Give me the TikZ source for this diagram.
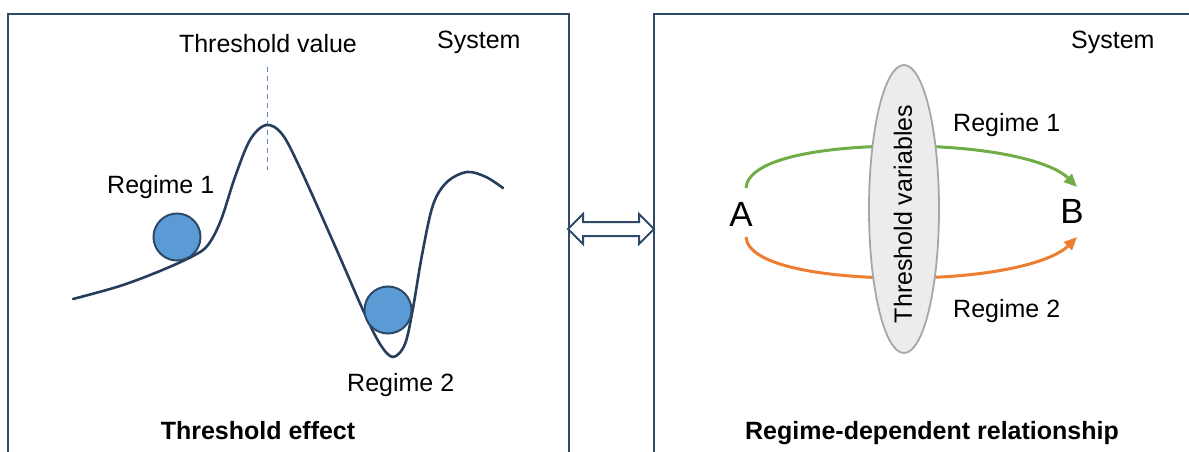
\documentclass[tikz,border=0pt]{standalone}
\usepackage{fontspec}
\setmainfont{Liberation Sans}
\usetikzlibrary{arrows.meta,shapes.geometric}
\definecolor{navy}{RGB}{46,74,104}
\definecolor{curvec}{RGB}{38,62,92}
\definecolor{ballc}{RGB}{91,155,213}
\definecolor{dashc}{RGB}{80,140,200}
\definecolor{greenc}{RGB}{112,173,71}
\definecolor{orangec}{RGB}{237,125,49}
\definecolor{ellfill}{RGB}{236,236,236}
\definecolor{ellline}{RGB}{166,166,166}
\tikzset{
  lbl/.style={font=\fontsize{25}{30}\selectfont, inner sep=0pt, text=black},
  ttl/.style={font=\fontsize{25}{30}\selectfont\bfseries, inner sep=0pt, text=black},
  big/.style={font=\fontsize{35}{40}\selectfont, inner sep=0pt, text=black},
  frame/.style={draw=navy, line width=2pt},
  ball/.style={circle, fill=ballc, draw=navy, line width=2pt, minimum size=47pt, inner sep=0pt},
  flow/.style={line width=3pt, -{Triangle[length=13pt,width=11pt]}},
}
\begin{document}
\begin{tikzpicture}[x=1pt,y=-1pt]
\useasboundingbox (0,0) rectangle (1189,452);
\begin{scope}
\clip (0,0) rectangle (1189,452);
\draw[frame] (8,14) rectangle (569,480);
\draw[frame] (654,14) rectangle (1220,480);
\end{scope}

% ---- left panel ----
\node[lbl, anchor=base] (tv) at (268,53) {Threshold value};
\node[lbl, anchor=base west] (sys1) at (437,49) {System};
\draw[dashc, line width=1pt, dash pattern=on 5pt off 4pt] (267,67) -- (267,170);
\draw[curvec, line width=2.6pt, line cap=round] plot[smooth, tension=0.55] coordinates {
  (73,299) (120,286) (160,271) (193,256) (208,245) (221,220) (235,177) (250,140) (266,125)
  (282,134) (300,168) (335,246) (363,310) (380,344) (393,357) (405,344) (413,308)
  (422,255) (433,205) (447,182) (467,172) (486,177) (503,188)};
\node[ball] (b1) at (177,237) {};
\node[ball] (b2) at (388,310) {};
\node[lbl, anchor=base west] (r1l) at (107,193) {Regime 1};
\node[lbl, anchor=base west] (r2l) at (347,391) {Regime 2};
\node[ttl, anchor=base] (te) at (258,439) {Threshold effect};

% ---- double arrow ----
\draw[navy, line width=2pt, fill=white, line join=miter]
  (568,229) -- (583,214) -- (583,222) -- (639,222) -- (639,214) -- (654,229)
  -- (639,244) -- (639,236) -- (583,236) -- (583,244) -- cycle;

% ---- right panel ----
\node[lbl, anchor=base west] (sys2) at (1071,49) {System};
\node[big] (A) at (741,214) {A};
\node[big] (B) at (1072,211) {B};
\coordinate (a1) at (746,188);
\coordinate (a2) at (746,237);
\coordinate (b1e) at (1077,187);
\coordinate (b2e) at (1077,237);
\draw[flow, greenc] (a1) .. controls (748,158) and (825,146) .. (904,146)
  .. controls (985,146) and (1050,160) .. (b1e);
\draw[flow, orangec] (a2) .. controls (748,266) and (825,278) .. (904,278)
  .. controls (985,278) and (1050,264) .. (b2e);
\node[ellipse, fill=ellfill, draw=ellline, line width=1.8pt, minimum width=70pt, minimum height=288pt, inner sep=0pt] (tvar) at (904,209) {};
\node[lbl, rotate=90] (tvt) at (903,214) {Threshold variables};
\node[lbl, anchor=base west] (r1r) at (953,131) {Regime 1};
\node[lbl, anchor=base west] (r2r) at (953,317) {Regime 2};
\node[ttl, anchor=base] (rd) at (932,439) {Regime-dependent relationship};
\end{tikzpicture}
\end{document}
